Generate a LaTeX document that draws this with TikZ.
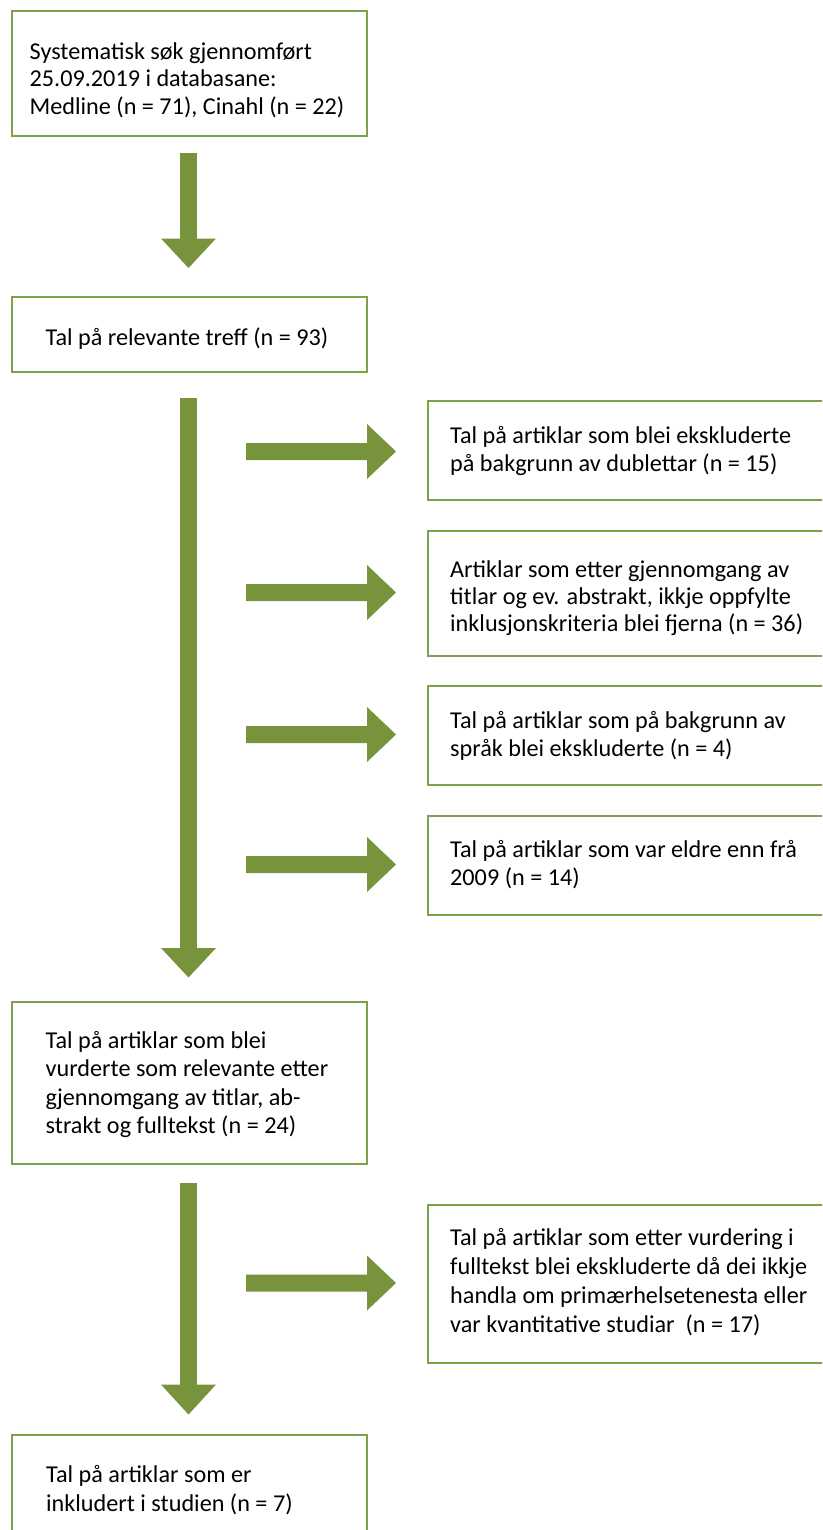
\documentclass[tikz,border=0pt]{standalone}
\usepackage{fontspec}
\setmainfont{Carlito}
\definecolor{arrowgreen}{HTML}{77933C}
\definecolor{boxgreen}{HTML}{7DA24A}
\newcommand{\mlines}[2]{\vtop{\baselineskip=#1\lineskiplimit=-100bp\lineskip=0pt\halign{##\hfil\cr#2\crcr}}}
% down block arrow: x, ytop, yhead, ytip
\newcommand{\dnarrow}[4]{\fill[arrowgreen] (#1-8.3,#2) -- (#1+8.3,#2) -- (#1+8.3,#3) -- (#1+27.5,#3) -- (#1,#4) -- (#1-27.5,#3) -- (#1-8.3,#3) -- cycle;}
% right block arrow: y-centre
\newcommand{\rtarrow}[1]{\fill[arrowgreen] (246,#1-8.5) -- (367,#1-8.5) -- (367,#1-27.5) -- (396,#1) -- (367,#1+27.5) -- (367,#1+8.5) -- (246,#1+8.5) -- cycle;}
\begin{document}
\begin{tikzpicture}[x=1bp,y=-1bp,
  box/.style={draw=boxgreen, line width=2bp, rectangle, inner sep=0pt, anchor=north west, minimum width=#1},
  box/.default=355bp,
  txt/.style={anchor=base west, inner sep=0pt, font=\fontsize{24.2bp}{28.5bp}\selectfont}]
\useasboundingbox (0,0) rectangle (822,1530);
\clip (0,0) rectangle (822,1530);
\fill[white] (0,0) rectangle (822,1530);
% boxes
\node[box, minimum height=125bp] (b1) at (11,10) {};
\node[box, minimum height=75bp] (b2) at (11,296) {};
\node[box=420bp, minimum height=99bp] (r1) at (427,400) {};
\node[box=420bp, minimum height=125bp] (r2) at (427,530) {};
\node[box=420bp, minimum height=99bp] (r3) at (427,685) {};
\node[box=420bp, minimum height=99bp] (r4) at (427,815) {};
\node[box, minimum height=162bp] (b3) at (11,1001) {};
\node[box=420bp, minimum height=158bp] (r5) at (427,1204) {};
\node[box, minimum height=120bp] (b4) at (11,1434) {};
% texts
\node[txt] (t1) at (29.5,59.5) {\mlines{27.5bp}{Systematisk søk gjennomført\cr 25.09.2019 i databasane:\cr Medline (n = 71), Cinahl (n = 22)}};
\node[txt] (t2) at (45.5,345) {\mlines{28.5bp}{Tal på relevante treff (n = 93)}};
\node[txt] (t3) at (450,443) {\mlines{28bp}{Tal på artiklar som blei ekskluderte\cr på bakgrunn av dublettar (n = 15)}};
\node[txt] (t4) at (450,577) {\mlines{27bp}{Artiklar som etter gjennomgang av\cr titlar og ev. abstrakt, ikkje oppfylte\cr inklusjonskriteria blei fjerna (n = 36)}};
\node[txt] (t5) at (450,728) {\mlines{28.5bp}{Tal på artiklar som på bakgrunn av\cr språk blei ekskluderte (n = 4)}};
\node[txt] (t6) at (450,857) {\mlines{28.5bp}{Tal på artiklar som var eldre enn frå\cr 2009 (n = 14)}};
\node[txt] (t7) at (45.5,1048) {\mlines{28.5bp}{Tal på artiklar som blei\cr vurderte som relevante etter\cr gjennomgang av titlar, ab-\cr strakt og fulltekst (n = 24)}};
\node[txt] (t8) at (450,1245) {\mlines{29.3bp}{Tal på artiklar som etter vurdering i\cr fulltekst blei ekskluderte då dei ikkje\cr handla om primærhelsetenesta eller\cr var kvantitative studiar\ \ (n = 17)}};
\node[txt] (t9) at (46,1482) {\mlines{29bp}{Tal på artiklar som er\cr inkludert i studien (n = 7)}};
% arrows
\dnarrow{188.5}{153}{238.5}{268}
\dnarrow{188.5}{398}{948}{977.5}
\dnarrow{188.5}{1183}{1384.5}{1414.5}
\rtarrow{451.5}
\rtarrow{592.5}
\rtarrow{734.5}
\rtarrow{864.5}
\rtarrow{1283}
\end{tikzpicture}
\end{document}
